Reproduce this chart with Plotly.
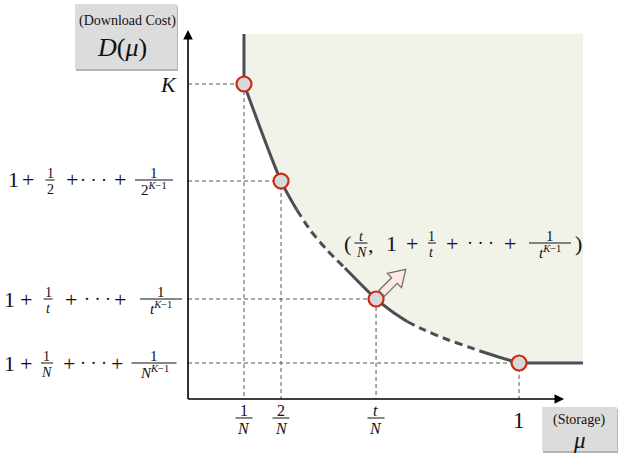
import math
import plotly.graph_objects as go

W, H = 623, 459

# corner points of the trade-off curve (storage mu, download cost D)
mu_pts = [0.169, 0.281, 0.568, 1.0]
D_pts = [4.0, 2.768, 1.270, 0.457]

# curve pieces: (style, mu, D)
curve_parts = [
    ("solid", [0.169, 0.281, 0.329], [4.0, 2.768, 2.40]),
    ("dash", [0.329, 0.369, 0.420, 0.474], [2.40, 2.146, 1.892, 1.663]),
    ("solid", [0.474, 0.568, 0.616, 0.662], [1.663, 1.270, 1.111, 0.984]),
    ("dash", [0.662, 0.710, 0.779, 0.852, 0.882], [0.984, 0.883, 0.762, 0.654, 0.610]),
    ("solid", [0.882, 0.943, 1.0], [0.610, 0.527, 0.457]),
]
flat_mu = [1.0, 1.193]
flat_D = [0.457, 0.457]
region_top = 4.635
x_tip, y_tip = 1.136, 4.686

FONT = "Liberation Serif"
CURVE = "#4a4f56"


def paper(px, py):
    return px / W, 1 - py / H


fig = go.Figure()

# achievable region (shaded)
rx = [mu_pts[0]]
ry = [region_top]
for _, xs, ys in curve_parts:
    rx += xs
    ry += ys
rx += [flat_mu[-1], flat_mu[-1]]
ry += [flat_D[-1], region_top]
fig.add_trace(go.Scatter(x=rx, y=ry, fill="toself", fillcolor="#f1f2e8",
                         mode="none", hoverinfo="skip"))

# dashed guides to the axes
gx, gy = [], []
for m, d in zip(mu_pts, D_pts):
    gx += [0, m, m, None]
    gy += [d, d, 0, None]
fig.add_trace(go.Scatter(x=gx, y=gy, mode="lines",
                         line=dict(color="#555555", width=1, dash="4px,3px"),
                         hoverinfo="skip"))

# vertical edge above K and flat edge after 1
fig.add_trace(go.Scatter(x=[mu_pts[0], mu_pts[0]], y=[D_pts[0], region_top],
                         mode="lines", line=dict(color=CURVE, width=3)))
fig.add_trace(go.Scatter(x=flat_mu, y=flat_D, mode="lines",
                         line=dict(color=CURVE, width=3)))

for style, xs, ys in curve_parts:
    fig.add_trace(go.Scatter(x=xs, y=ys, mode="lines",
                             line=dict(color=CURVE, width=3,
                                       dash="solid" if style == "solid" else "8px,5px",
                                       shape="spline", smoothing=0.8)))

# axes with arrows
fig.add_annotation(x=0, y=y_tip, ax=0, ay=-0.02, xref="x", yref="y", axref="x", ayref="y",
                   showarrow=True, arrowhead=2, arrowsize=1.2, arrowwidth=1.6,
                   arrowcolor="black", text="")
fig.add_annotation(x=x_tip, y=0, ax=-0.004, ay=0, xref="x", yref="y", axref="x", ayref="y",
                   showarrow=True, arrowhead=2, arrowsize=1.2, arrowwidth=1.6,
                   arrowcolor="black", text="")


# outlined block arrow pointing into the region
def block_arrow(start=8, neck=26, tip=42, shaft=4, head=10):
    d = (1 / math.sqrt(2), 1 / math.sqrt(2))
    n = (-d[1], d[0])
    pts = [(start, shaft), (neck, shaft), (neck, head), (tip, 0),
           (neck, -head), (neck, -shaft), (start, -shaft)]
    xy = [(a * d[0] + b * n[0], a * d[1] + b * n[1]) for a, b in pts]
    return "M " + " L ".join(f"{x:.1f},{y:.1f}" for x, y in xy) + " Z"


fig.add_shape(type="path", xsizemode="pixel", ysizemode="pixel",
              xanchor=mu_pts[2], yanchor=D_pts[2], path=block_arrow(),
              fillcolor="#fde9df", line=dict(color="#707070", width=1.3))

fig.add_trace(go.Scatter(x=mu_pts, y=D_pts, mode="markers",
                         marker=dict(size=15, color="#d7d8db",
                                     line=dict(color="#cc2a10", width=2.2))))


# ---- text helpers ----
def txt(s, px, py, size=22, **kw):
    x, y = paper(px, py)
    fig.add_annotation(x=x, y=y, xref="paper", yref="paper", text=s, showarrow=False,
                       xanchor="center", yanchor="middle",
                       font=dict(family=FONT, size=size, color="#111111"), **kw)


def frac(num, den, cx, cy, size=14, w=10, up=7, down=9):
    txt(num, cx, cy - up, size)
    txt(den, cx, cy + down, size)
    x0, y0 = paper(cx - w / 2, cy)
    x1, _ = paper(cx + w / 2, cy)
    fig.add_shape(type="line", xref="paper", yref="paper", x0=x0, x1=x1, y0=y0, y1=y0,
                  line=dict(color="#111111", width=1))


def sum_row(base, cy, xs, last_w):
    c1, p1, f1, p2, dots, p3, f2 = xs
    b = "2" if base == "2" else f"<i>{base}</i>"
    txt("1", c1, cy)
    txt("+", p1, cy)
    frac("1", b, f1, cy, w=9 if base != "N" else 12)
    txt("+", p2, cy)
    txt("· · ·", dots, cy, size=18)
    txt("+", p3, cy)
    frac("1", f"{b}<sup><i>K</i>−1</sup>", f2, cy, size=15, w=last_w)


# y labels
txt("<i>K</i>", 168, 85, 22)
sum_row("2", 180, [13, 28, 50, 72, 94, 120, 154], 38)
sum_row("t", 299, [10, 26, 48, 71, 97, 120, 161], 42)
sum_row("N", 363, [10, 26, 47, 69, 93, 117, 154], 45)

# x labels
frac("1", "<i>N</i>", 244, 418, size=16, w=17, up=8, down=10)
frac("2", "<i>N</i>", 281, 418, size=16, w=17, up=8, down=10)
frac("<i>t</i>", "<i>N</i>", 376, 418, size=16, w=17, up=8, down=10)
txt("1", 519, 420, 23)

# point label
cy = 243
txt("(", 348, cy)
frac("<i>t</i>", "<i>N</i>", 361, cy, w=13)
txt(",", 371, cy + 2)
txt("1", 391, cy)
txt("+", 412, cy)
frac("1", "<i>t</i>", 432, cy, w=8)
txt("+", 452, cy)
txt("· · ·", 480, cy, size=18)
txt("+", 510, cy)
frac("1", "<i>t</i><sup><i>K</i>−1</sup>", 550, cy, size=15, w=42)
txt(")", 578, cy)


# axis title boxes
def box(x0, y0, x1, y1):
    for dx, dy, col in [(1, 2, "#b5b5b5"), (0, 0, "#dcdcdc")]:
        a, b = paper(x0 + dx, y0 + dy)
        c, d = paper(x1 + dx, y1 + dy)
        fig.add_shape(type="rect", xref="paper", yref="paper", x0=a, y0=b, x1=c, y1=d,
                      fillcolor=col, line=dict(width=0), layer="below")


box(75, 4, 177, 69)
txt("(Download Cost)", 127, 21, 14)
txt("<i>D</i>(<i>μ</i>)", 122, 47, 26)

box(542, 407, 617, 451)
txt("(Storage)", 579, 420, 14)
txt("<i>μ</i>", 579, 440, 23)

fig.update_layout(
    width=W, height=H,
    margin=dict(l=0, r=0, t=0, b=0),
    plot_bgcolor="rgba(0,0,0,0)", paper_bgcolor="white",
    showlegend=False,
    xaxis=dict(range=[-0.568, 1.314], visible=False, fixedrange=True),
    yaxis=dict(range=[-0.762, 5.067], visible=False, fixedrange=True),
)

fig.write_html("out.html", config={"displayModeBar": False},
               post_script="document.body.style.margin='0';")
